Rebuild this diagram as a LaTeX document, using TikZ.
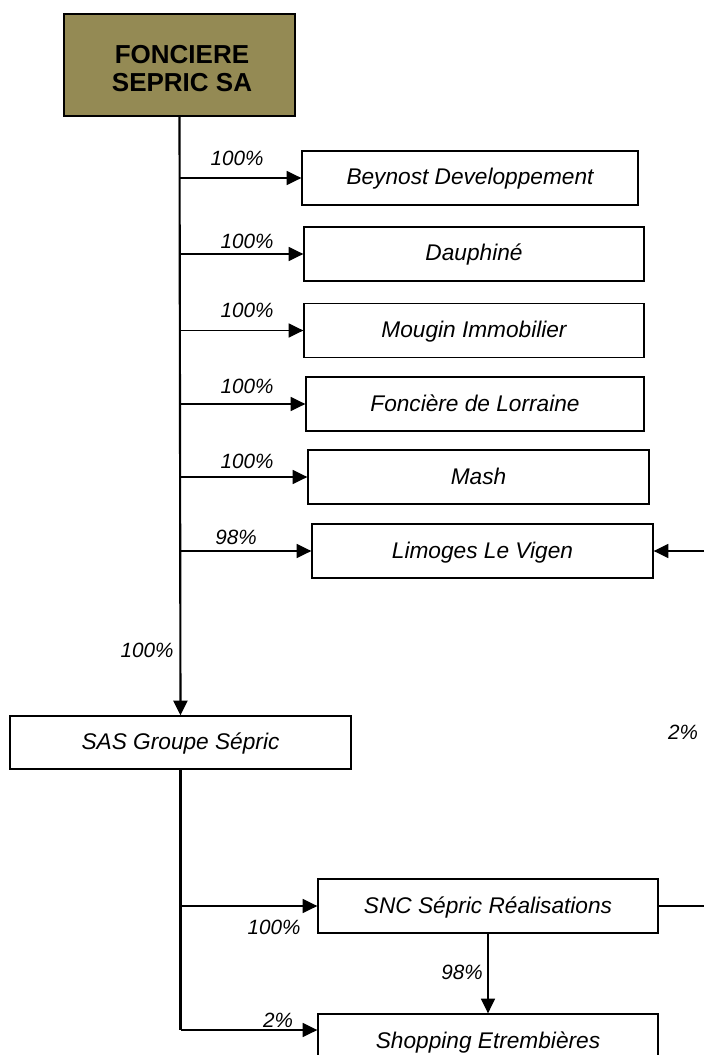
\documentclass[tikz,border=0pt]{standalone}
\usepackage{fontspec}
\setmainfont{Liberation Sans}
\usetikzlibrary{arrows.meta,calc}
\definecolor{olive}{HTML}{948A54}
\begin{document}
\begin{tikzpicture}[x=0.75pt,y=-0.75pt,
  box/.style={draw=black,line width=1pt,fill=white,minimum height=40.5pt,inner sep=0pt,text height=1.25em,text depth=0.2em,font=\fontsize{17}{20}\selectfont\itshape},
  pct/.style={font=\fontsize{15.5}{18}\selectfont\itshape,inner sep=0pt},
  tip/.style={-{Triangle[length=11pt,width=10.5pt]}},
  arr/.style={line width=1pt,tip},
  ln/.style={line width=1pt},
  trunk/.style={line width=1.6pt}]
\useasboundingbox (0,0) rectangle (704,1055);
% top box
\node[draw=black,line width=1.2pt,fill=olive,minimum width=173.25pt,minimum height=76.5pt,inner sep=0pt] (top) at (179.5,65) {};
\node[align=center,inner sep=0pt,font=\fontsize{19.5}{21}\selectfont\bfseries] (toptext) at (182,69) {FONCIERE\\SEPRIC SA};
% subsidiaries
\node[box,minimum width=252pt] (b1) at (470,178) {Beynost Developpement};
\node[box,minimum width=255pt] (b2) at (474,254) {Dauphiné};
\node[box,minimum width=255pt] (b3) at (474,330.5) {Mougin Immobilier};
\node[box,minimum width=253.5pt] (b4) at (475,404) {Foncière de Lorraine};
\node[box,minimum width=255.75pt] (b5) at (478.5,477) {Mash};
\node[box,minimum width=255.75pt] (b6) at (482.5,551) {Limoges Le Vigen};
\node[box,minimum width=255.75pt,minimum height=39.75pt] (sas) at (180.5,742.5) {SAS Groupe Sépric};
\node[box,minimum width=255pt] (snc) at (488,906) {SNC Sépric Réalisations};
\node[box,minimum width=255pt] (shop) at (488,1041) {Shopping Etrembières};
% trunk
\draw[trunk,tip] (top.south) -- (sas.north);
\foreach \b in {b1,b2,b3,b4,b5,b6}{
  \draw[arr] (top.south |- \b.west) -- (\b.west);
}
% lower part
\coordinate (shopin) at ($(shop.west)+(0,-11)$);
\draw[trunk] (sas.south) -- (sas.south |- shopin);
\draw[arr] (sas.south |- shopin) -- (shopin);
\draw[arr] (sas.south |- snc.west) -- (snc.west);
\draw[arr] (snc.south) -- (shop.north);
% cross links from the right edge
\coordinate (rin) at (704,551);
\coordinate (rout) at (704,906);
\draw[arr] (rin) -- (b6.east);
\draw[ln] (snc.east) -- (rout);
% labels
\node[pct] (l1) at (237,158) {100\%};
\node[pct] (l2) at (247,241) {100\%};
\node[pct] (l3) at (247,310) {100\%};
\node[pct] (l4) at (247,386) {100\%};
\node[pct] (l5) at (247,461) {100\%};
\node[pct] (l6) at (236,537) {98\%};
\node[pct] (l7) at (147,650) {100\%};
\node[pct] (l8) at (683,732) {2\%};
\node[pct] (l9) at (274,927) {100\%};
\node[pct] (l10) at (462,972) {98\%};
\node[pct] (l11) at (278,1020) {2\%};
\end{tikzpicture}
\end{document}
